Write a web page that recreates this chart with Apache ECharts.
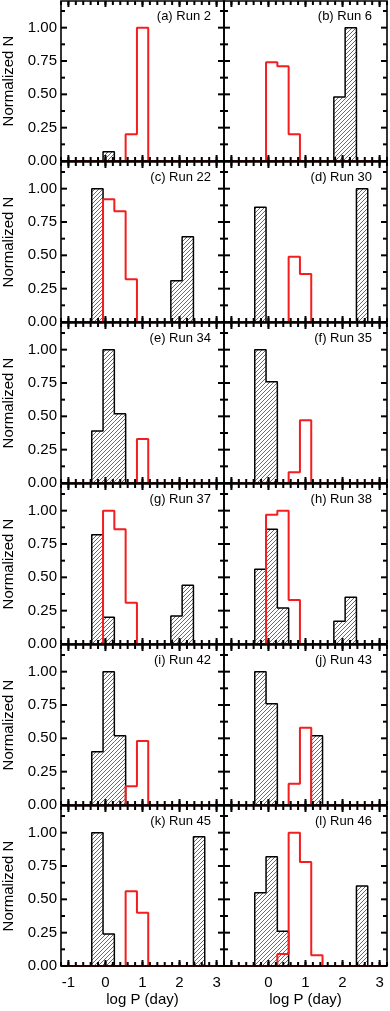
<!DOCTYPE html>
<html><head><meta charset="utf-8">
<script src="https://cdn.jsdelivr.net/npm/echarts@6/dist/echarts.min.js"></script>
<style>html,body{margin:0;padding:0;background:#fff}#c{width:390px;height:1011px}</style>
</head><body><div id="c"></div>
<script>
// ---- data ----
const binEdges = [-0.37, -0.065, 0.24, 0.545, 0.85, 1.155, 1.46, 1.765, 2.07, 2.375, 2.68];
const xTicks = [-1, 0, 1, 2, 3];
const xLabelsRight = [0, 1, 2, 3];
const xMinorTicks = [-1.2, -1.0, -0.8, -0.6, -0.4, -0.2, 0, 0.2, 0.4, 0.6, 0.8, 1.0, 1.2, 1.4, 1.6, 1.8,
                     2.0, 2.2, 2.4, 2.6, 2.8, 3.0, 3.2];
const yTicks = [0, 0.25, 0.5, 0.75, 1.0];
const yMinorTicks = [0.125, 0.375, 0.625, 0.875, 1.125];
const panelLabels = ['(a) Run 2','(b) Run 6','(c) Run 22','(d) Run 30','(e) Run 34','(f) Run 35',
                     '(g) Run 37','(h) Run 38','(i) Run 42','(j) Run 43','(k) Run 45','(l) Run 46'];
const blackA = [0, 0.07, 0, 0, 0, 0, 0, 0, 0, 0];
const redA   = [0, 0, 0, 0.20, 1.00, 0, 0, 0, 0, 0];
const blackB = [0, 0, 0, 0, 0, 0, 0, 0.48, 1.00, 0];
const redB   = [0, 0.74, 0.71, 0.20, 0, 0, 0, 0, 0, 0];
const blackC = [1.00, 0, 0, 0, 0, 0, 0, 0.31, 0.64, 0];
const redC   = [0, 0.92, 0.83, 0.32, 0, 0, 0, 0, 0, 0];
const blackD = [0.86, 0, 0, 0, 0, 0, 0, 0, 0, 1.00];
const redD   = [0, 0, 0, 0.49, 0.36, 0, 0, 0, 0, 0];
const blackE = [0.39, 1.00, 0.52, 0, 0, 0, 0, 0, 0, 0];
const redE   = [0, 0, 0, 0, 0.33, 0, 0, 0, 0, 0];
const blackF = [1.00, 0.76, 0, 0, 0, 0, 0, 0, 0, 0];
const redF   = [0, 0, 0, 0.08, 0.47, 0, 0, 0, 0, 0];
const blackG = [0.82, 0.20, 0, 0, 0, 0, 0, 0.21, 0.44, 0];
const redG   = [0, 1.00, 0.86, 0.31, 0, 0, 0, 0, 0, 0];
const blackH = [0.56, 0.86, 0.27, 0, 0, 0, 0, 0.17, 0.35, 0];
const redH   = [0, 0.97, 1.00, 0.33, 0, 0, 0, 0, 0, 0];
const blackI = [0.40, 1.00, 0.52, 0, 0, 0, 0, 0, 0, 0];
const redI   = [0, 0, 0, 0.14, 0.48, 0, 0, 0, 0, 0];
const blackJ = [1.00, 0.76, 0, 0, 0, 0.52, 0, 0, 0, 0];
const redJ   = [0, 0, 0, 0.16, 0.58, 0, 0, 0, 0, 0];
const blackK = [1.00, 0.24, 0, 0, 0, 0, 0, 0, 0, 0.97];
const redK   = [0, 0, 0, 0.56, 0.40, 0, 0, 0, 0, 0];
const blackL = [0.55, 0.82, 0.26, 0, 0, 0, 0, 0, 0, 0.60];
const redL   = [0, 0, 0.09, 1.00, 0.78, 0.08, 0, 0, 0, 0];

const blackSets = [blackA, blackB, blackC, blackD, blackE, blackF, blackG, blackH, blackI, blackJ, blackK, blackL];
const redSets = [redA, redB, redC, redD, redE, redF, redG, redH, redI, redJ, redK, redL];

// ---- layout ----
const X_MIN = -1.2, X_MAX = 3.2, Y_MAX = 1.2;
const colLeft = [61, 224], colW = 163, rowH = 161;
const FONT = 'Liberation Sans, Arial, Helvetica, sans-serif';
const MAJOR_LEN = 6, MINOR_LEN = 4;

function hatchCanvas() {
  const s = 4, c = document.createElement('canvas');
  c.width = s; c.height = s;
  const g = c.getContext('2d');
  g.strokeStyle = '#444'; g.lineWidth = 0.8;
  g.beginPath();
  g.moveTo(0, s); g.lineTo(s, 0);
  g.moveTo(-1, 1); g.lineTo(1, -1);
  g.moveTo(s - 1, s + 1); g.lineTo(s + 1, s - 1);
  g.stroke();
  return c;
}
const hatch = { image: hatchCanvas(), repeat: 'repeat' };

function stepPoints(vals) {
  const pts = [[X_MIN, 0], [binEdges[0], 0]];
  for (let k = 0; k < vals.length; k++) {
    pts.push([binEdges[k], vals[k]]);
    pts.push([binEdges[k + 1], vals[k]]);
  }
  pts.push([binEdges[vals.length], 0]);
  pts.push([X_MAX, 0]);
  return pts;
}

// frame + tick items: [value, kind]; kind 0 = x major, 1 = x minor, 2 = y major, 3 = y minor, 4 = frame
const tickItems = [[0, 4]];
xTicks.forEach(v => tickItems.push([v, 0]));
xMinorTicks.forEach(v => tickItems.push([v, 1]));
yTicks.forEach(v => tickItems.push([v, 2]));
yMinorTicks.forEach(v => tickItems.push([v, 3]));

function renderTick(params, api) {
  const v = api.value(0), kind = api.value(1);
  const st = { stroke: '#000', lineWidth: 2 };
  if (kind === 4) {
    const a = api.coord([X_MIN, Y_MAX]), b = api.coord([X_MAX, 0]);
    return { type: 'rect', shape: { x: a[0], y: a[1], width: b[0] - a[0], height: b[1] - a[1] },
             style: { fill: null, stroke: '#000', lineWidth: 1.6 } };
  }
  if (kind < 2) {
    const len = kind === 0 ? MAJOR_LEN : MINOR_LEN;
    const b = api.coord([v, 0]), t = api.coord([v, Y_MAX]);
    return { type: 'group', children: [
      { type: 'line', shape: { x1: b[0], y1: b[1], x2: b[0], y2: b[1] - len }, style: st },
      { type: 'line', shape: { x1: t[0], y1: t[1], x2: t[0], y2: t[1] + len }, style: st }
    ] };
  }
  const len = kind === 2 ? MAJOR_LEN : MINOR_LEN;
  const l = api.coord([X_MIN, v]), r = api.coord([X_MAX, v]);
  return { type: 'group', children: [
    { type: 'line', shape: { x1: l[0], y1: l[1], x2: l[0] + len, y2: l[1] }, style: st },
    { type: 'line', shape: { x1: r[0], y1: r[1], x2: r[0] - len, y2: r[1] }, style: st }
  ] };
}

const grids = [], xAxes = [], yAxes = [], series = [], titles = [];
for (let i = 0; i < 12; i++) {
  const col = i % 2, row = Math.floor(i / 2);
  const top = 1 + rowH * row;
  const isBottom = row === 5;
  grids.push({ left: colLeft[col], top: top, width: colW, height: rowH - 1, show: false });
  xAxes.push({
    type: 'value', gridIndex: i, min: X_MIN, max: X_MAX, position: 'bottom',
    splitLine: { show: false }, axisLine: { show: false, onZero: false }, axisTick: { show: false },
    axisLabel: { show: isBottom, customValues: col === 0 ? xTicks : xLabelsRight, margin: 9,
                 color: '#000', fontSize: 15, fontFamily: FONT },
    name: isBottom ? 'log P (day)' : '', nameLocation: 'middle', nameGap: 26,
    nameTextStyle: { color: '#000', fontSize: 15, fontFamily: FONT }
  });
  yAxes.push({
    type: 'value', gridIndex: i, min: 0, max: Y_MAX, interval: 0.25, position: 'left',
    splitLine: { show: false }, axisLine: { show: false, onZero: false }, axisTick: { show: false },
    axisLabel: { show: col === 0, margin: 4, color: '#000', fontSize: 15, fontFamily: FONT,
                 formatter: v => (Math.abs(v * 4 - Math.round(v * 4)) < 1e-6 ? v.toFixed(2) : '') },
    name: col === 0 ? 'Normalized N' : '', nameLocation: 'middle', nameGap: 45,
    nameTextStyle: { color: '#000', fontSize: 15, fontFamily: FONT }
  });

  const black = blackSets[i], red = redSets[i];
  const rects = [];
  black.forEach((v, k) => { if (v > 0) rects.push([binEdges[k], binEdges[k + 1], v]); });
  series.push({
    type: 'custom', xAxisIndex: i, yAxisIndex: i, data: rects, z: 2,
    encode: { x: [0, 1], y: 2 },
    renderItem: (params, api) => {
      const p0 = api.coord([api.value(0), api.value(2)]);
      const p1 = api.coord([api.value(1), 0]);
      return { type: 'rect', shape: { x: p0[0], y: p0[1], width: p1[0] - p0[0], height: p1[1] - p0[1] },
               style: { fill: hatch, stroke: null } };
    }
  });
  series.push({
    type: 'line', xAxisIndex: i, yAxisIndex: i, data: stepPoints(black), z: 3,
    symbol: 'none', lineStyle: { color: '#000', width: 1.5 }, clip: true
  });
  series.push({
    type: 'line', xAxisIndex: i, yAxisIndex: i, data: stepPoints(red), z: 4,
    symbol: 'none', lineStyle: { color: '#f41e1e', width: 2 }, clip: true
  });
  series.push({
    type: 'line', xAxisIndex: i, yAxisIndex: i, data: [[X_MIN, 0], [X_MAX, 0]], z: 5,
    symbol: 'none', lineStyle: { color: '#8a1010', width: 2 }, clip: true, silent: true
  });
  series.push({
    type: 'custom', xAxisIndex: i, yAxisIndex: i, data: tickItems, z: 6, silent: true,
    encode: { x: 0, y: 1 }, renderItem: renderTick, clip: false
  });
  titles.push({
    text: panelLabels[i], right: col === 0 ? 390 - 224 + 13 : 390 - 387 + 15, top: top + 9, padding: 0,
    textStyle: { color: '#000', fontSize: 13, fontWeight: 'normal', fontFamily: FONT }
  });
}

const chart = echarts.init(document.getElementById('c'), null, { renderer: 'canvas' });
chart.setOption({
  animation: false,
  backgroundColor: '#fff',
  title: titles,
  grid: grids,
  xAxis: xAxes,
  yAxis: yAxes,
  series: series
});
</script>
</body></html>
